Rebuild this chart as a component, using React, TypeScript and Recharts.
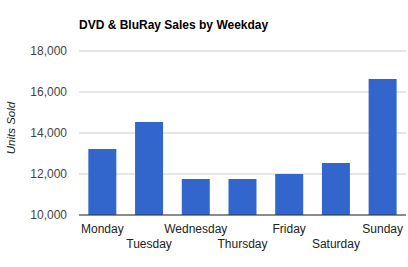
import { Bar, BarChart, CartesianGrid, XAxis, YAxis } from "recharts";

const DAYS = ["Monday", "Tuesday", "Wednesday", "Thursday", "Friday", "Saturday", "Sunday"];
const UNITS = [13220, 14540, 11760, 11760, 12000, 12540, 16640];
const Y_TICKS = [10000, 12000, 14000, 16000, 18000];

const data = DAYS.map((day, i) => ({ day, units: UNITS[i] }));

const FONT = "Arial, 'Liberation Sans', sans-serif";

// alternate labels between two rows like the original
function DayTick(props: any) {
  const { x, y, payload, index } = props;
  const row = index % 2;
  return (
    <text
      x={x}
      y={y + 18 + row * 15}
      textAnchor="middle"
      fontFamily={FONT}
      fontSize={12}
      fill="#222"
    >
      {payload.value}
    </text>
  );
}

function AxisTitle(props: any) {
  const { viewBox } = props;
  const cx = 11;
  const cy = viewBox.y + viewBox.height / 2 - 5;
  return (
    <text
      x={cx}
      y={cy}
      transform={`rotate(-90, ${cx}, ${cy})`}
      textAnchor="middle"
      dominantBaseline="central"
      fontFamily={FONT}
      fontSize={11.5}
      fontStyle="italic"
      fill="#222"
    >
      Units Sold
    </text>
  );
}

export default function App() {
  return (
    <div style={{ position: "absolute", left: 0, top: 0, width: 408, height: 267, background: "#fff" }}>
      <div
        style={{
          position: "absolute",
          left: 79,
          top: 17,
          fontFamily: FONT,
          fontSize: 12,
          fontWeight: "bold",
          color: "#000",
          lineHeight: "16px",
          whiteSpace: "nowrap",
        }}
      >
        DVD &amp; BluRay Sales by Weekday
      </div>
      <BarChart
        width={408}
        height={267}
        data={data}
        margin={{ top: 51, right: 2, bottom: 12, left: 0 }}
        barCategoryGap="20%"
      >
        <CartesianGrid vertical={false} stroke="#ccc" />
        <XAxis
          dataKey="day"
          height={40}
          interval={0}
          tickLine={false}
          axisLine={{ stroke: "#333" }}
          tick={<DayTick />}
          tickSize={0}
          tickMargin={0}
        />
        <YAxis
          width={79}
          domain={[10000, 18000]}
          ticks={Y_TICKS}
          allowDataOverflow
          tickLine={false}
          axisLine={false}
          tickSize={0}
          tickMargin={12}
          tickFormatter={(v: number) => v.toLocaleString("en-US")}
          tick={{ fontFamily: FONT, fontSize: 12, fill: "#444" }}
          label={<AxisTitle />}
        />
        <Bar dataKey="units" fill="#3366cc" isAnimationActive={false} />
      </BarChart>
    </div>
  );
}
